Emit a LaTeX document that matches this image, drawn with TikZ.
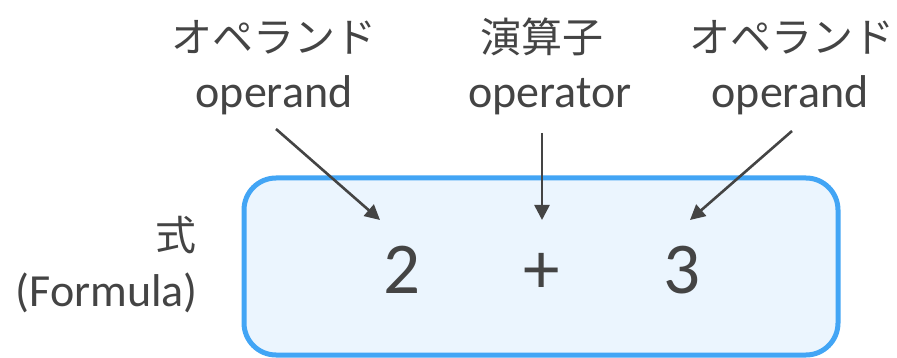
\documentclass[tikz,border=0pt]{standalone}
\usepackage{fontspec}
\setmainfont{Carlito}
\newfontfamily\jpfont{Noto Sans CJK JP}
\usetikzlibrary{arrows.meta}
\definecolor{txt}{HTML}{444444}
\definecolor{boxline}{HTML}{42A5F5}
\definecolor{boxfill}{HTML}{EBF5FE}
\tikzset{
  lat/.style={text=txt, inner sep=0pt, anchor=base, font=\fontsize{46}{50}\selectfont},
  jp/.style={text=txt, inner sep=0pt, anchor=base, font=\jpfont\fontsize{41}{50}\selectfont},
  big/.style={text=txt, inner sep=0pt, anchor=base, font=\fontsize{73}{80}\selectfont},
  arr/.style={draw=txt, line width=2.6pt, -{Triangle[length=15pt,width=15pt]}},
  formbox/.style={draw=boxline, fill=boxfill, line width=5pt, rounded corners=32pt,
    minimum width=594pt, minimum height=177pt, inner sep=0pt}
}
\begin{document}
\begin{tikzpicture}[x=1pt,y=-1pt]
\useasboundingbox (0,0) rectangle (897,358);
\node[formbox] (box) at (541,266.5) {};
% top labels
\node[jp] (jpL) at (274,53) {オペランド};
\node[lat] (enL) at (274,108) {operand};
\node[jp] (jpM) at (542,53) {演算子};
\node[lat] (enM) at (550,108) {operator};
\node[jp] (jpR) at (792,53) {オペランド};
\node[lat] (enR) at (790,108) {operand};
% formula
\node[big] (two) at (402,293) {2};
\node[big] (plus) at (542,293) {+};
\node[big] (three) at (682,293) {3};
% left label
\node[jp, anchor=base east] (shiki) at (197,251) {式};
\node[lat, anchor=base east] (formula) at (198,306) {(Formula)};
% arrows
\coordinate (sL) at (276,129);
\coordinate (tL) at (380,220);
\coordinate (sM) at (542,133);
\coordinate (tM) at (542,220);
\coordinate (sR) at (792,131);
\coordinate (tR) at (690,220);
\draw[arr] (sL) -- (tL);
\draw[arr] (sM) -- (tM);
\draw[arr] (sR) -- (tR);
\end{tikzpicture}
\end{document}
